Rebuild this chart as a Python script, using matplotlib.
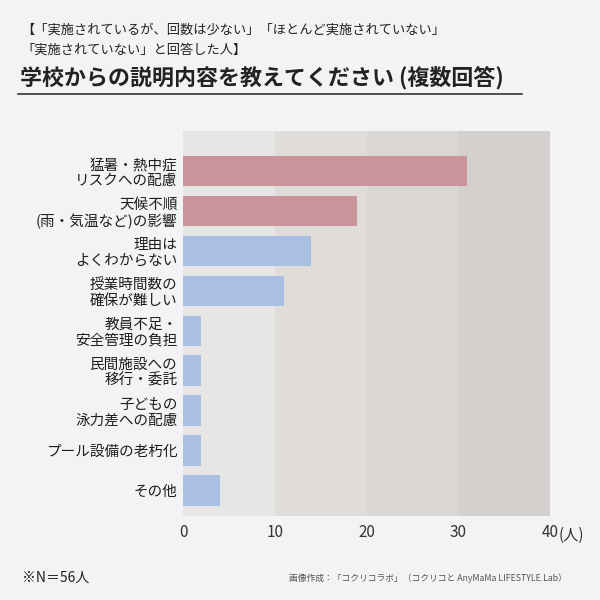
import matplotlib.pyplot as plt
import numpy as np

plt.rcParams['font.family'] = ['Noto Sans CJK JP', 'DejaVu Sans']

# data
labels = [
    "猛暑・熱中症\nリスクへの配慮",
    "天候不順\n(雨・気温など)の影響",
    "理由は\nよくわからない",
    "授業時間数の\n確保が難しい",
    "教員不足・\n安全管理の負担",
    "民間施設への\n移行・委託",
    "子どもの\n泳力差への配慮",
    "プール設備の老朽化",
    "その他",
]
values = [31, 19, 14, 11, 2, 2, 2, 2, 4]
highlight = [True, True, False, False, False, False, False, False, False]
xticks = [0, 10, 20, 30, 40]

bg = '#f3f2f4'
red = '#c9959a'
blue = '#a9c0e3'
bands = ['#e6e6e4', '#e0dcda', '#d9d6d3', '#d3d0cd']

fig = plt.figure(figsize=(6, 6), dpi=100, facecolor=bg)
ax = fig.add_axes([0.305, 0.14, 0.6117, 0.6417])
ax.set_facecolor(bg)

# shaded bands behind the bars
for i, c in enumerate(bands):
    ax.axvspan(xticks[i], xticks[i + 1], color=c, lw=0, zorder=0)

y = np.arange(len(values))
colors = [red if h else blue for h in highlight]
ax.barh(y, values, height=0.76, color=colors, zorder=2)

ax.set_xlim(0, 40)
ax.set_ylim(len(values) - 1 + 0.64, -1.0)
ax.set_yticks(y)
ax.set_yticklabels(labels, fontsize=10.5, color='#1e1e1e', linespacing=1.15)
ax.set_xticks(xticks)
ax.set_xticklabels([str(t) for t in xticks], fontsize=11, color='#333333')
ax.tick_params(length=0, axis='y', pad=4)
ax.tick_params(length=0, axis='x', pad=6)
ax.annotate("(人)", xy=(40, 0), xycoords=('data', 'axes fraction'),
            xytext=(6.5, -7.5), textcoords='offset points', ha='left', va='top',
            fontsize=11, color='#333333', annotation_clip=False)
for s in ax.spines.values():
    s.set_visible(False)

# titles
fig.text(0.035, 0.950, "【「実施されているが、回数は少ない」「ほとんど実施されていない」",
         fontsize=9.5, color='#222222', va='center')
fig.text(0.035, 0.917, "「実施されていない」と回答した人】",
         fontsize=9.5, color='#222222', va='center')
fig.text(0.033, 0.870, "学校からの説明内容を教えてください (複数回答)",
         fontsize=15.8, fontweight='bold', color='#222222', va='center')
fig.add_artist(plt.Line2D([0.03, 0.87], [0.843, 0.843], color='#333333', lw=1.2))

# footer
fig.text(0.037, 0.037, "※N＝56人", fontsize=10, color='#222222', va='center')
fig.text(0.945, 0.037, "画像作成：「コクリコラボ」（コクリコと AnyMaMa LIFESTYLE.Lab）",
         fontsize=6.3, color='#555555', va='center', ha='right')

fig.savefig('out.png', dpi=100, facecolor=bg)
